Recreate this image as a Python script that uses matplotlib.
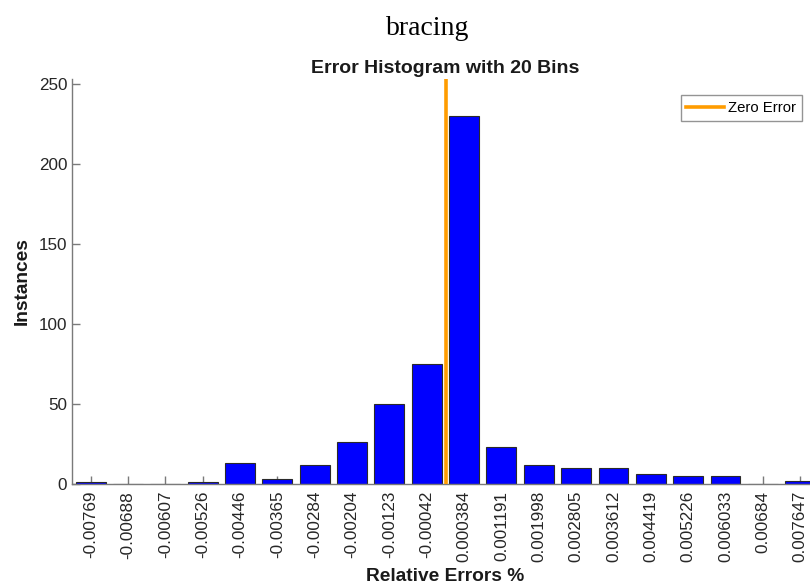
import numpy as np
import matplotlib.pyplot as plt

# bin centres (labels as printed) and counts
bin_labels = ['-0.00769', '-0.00688', '-0.00607', '-0.00526', '-0.00446',
              '-0.00365', '-0.00284', '-0.00204', '-0.00123', '-0.00042',
              '0.000384', '0.001191', '0.001998', '0.002805', '0.003612',
              '0.004419', '0.005226', '0.006033', '0.00684', '0.007647']
bin_centers = [float(s) for s in bin_labels]
counts = [1, 0, 0, 1, 13, 3, 12, 26, 50, 75,
          230, 23, 12, 10, 10, 6, 5, 5, 0, 2]

plt.rcParams['font.family'] = ['Liberation Sans', 'DejaVu Sans']

fig = plt.figure(figsize=(8.1, 5.88), dpi=100)
ax = fig.add_axes([0.0889, 0.1769, 0.922, 0.6887])

pos = np.arange(len(counts))
ax.bar(pos, counts, width=0.8, color=(0, 0, 1), edgecolor='#2a2a2a',
       linewidth=0.8, zorder=2)

# zero error line, placed between the bins around 0
i = np.searchsorted(bin_centers, 0.0)
frac = (0 - bin_centers[i - 1]) / (bin_centers[i] - bin_centers[i - 1])
zx = pos[i - 1] + frac
ax.axvline(zx, color='#ff9c00', linewidth=2.6, label='Zero Error', zorder=3)

ax.set_xlim(-0.5, len(counts) - 0.5)
ax.set_ylim(0, 253)
ax.set_yticks([0, 50, 100, 150, 200, 250])
ax.set_xticks(pos)
ax.set_xticklabels(bin_labels, rotation=90)

for s in ['top', 'right']:
    ax.spines[s].set_visible(False)
for s in ['left', 'bottom']:
    ax.spines[s].set_color('#7a7a7a')
    ax.spines[s].set_linewidth(1.0)
ax.tick_params(direction='in', length=6, width=1.0, color='#7a7a7a',
               labelcolor='#262626', labelsize=12.3)
ax.tick_params(axis='x', pad=5)

ax.set_title('Error Histogram with 20 Bins', fontsize=14, fontweight='bold',
             color='#1a1a1a', pad=4)
ax.set_xlabel('Relative Errors %', fontsize=13.8, fontweight='bold',
              color='#1a1a1a', labelpad=4)
ax.set_ylabel('Instances', fontsize=13.8, fontweight='bold',
              color='#1a1a1a', labelpad=6)

leg = ax.legend(loc='upper right', bbox_to_anchor=(802 / 810, 1 - 95 / 588),
                bbox_transform=fig.transFigure, fontsize=10.7,
                frameon=True, fancybox=False, handlelength=2.5,
                borderpad=0.4, handletextpad=0.3, borderaxespad=0)
leg.get_frame().set_edgecolor('#7a7a7a')
leg.get_frame().set_linewidth(1.0)

fig.text(0.528, 0.952, 'bracing', ha='center', va='center', fontsize=20,
         family=['Liberation Serif', 'DejaVu Serif'])

fig.savefig('out.png', dpi=100)
